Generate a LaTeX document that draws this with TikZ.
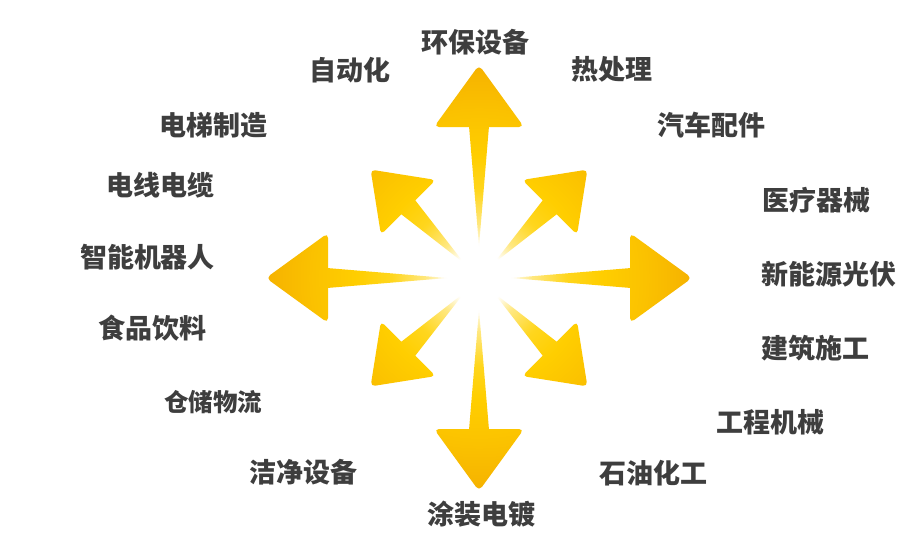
\documentclass[tikz,border=0pt]{standalone}
\usepackage{fontspec}
\newfontfamily\cjk{Noto Sans CJK SC}
\definecolor{txt}{RGB}{62,62,62}
\definecolor{cA}{RGB}{255,232,130}
\definecolor{cB}{RGB}{255,214,30}
\definecolor{cC}{RGB}{255,206,0}
\definecolor{cD}{RGB}{251,194,0}
\definecolor{cE}{RGB}{245,176,0}
\pgfdeclareradialshading{burst}{\pgfpointorigin}{color(0bp)=(white); color(3.5bp)=(white); color(6bp)=(cA); color(10bp)=(cB); color(14bp)=(cC); color(19bp)=(cD); color(25bp)=(cE); color(50bp)=(cE)}
\begin{document}
\begin{tikzpicture}[x=1pt,y=-1pt,
  lbl/.style={text=txt, inner sep=0pt, font=\cjk\bfseries\fontsize{27}{30}\selectfont},
  lbls/.style={text=txt, inner sep=0pt, font=\cjk\bfseries\fontsize{24.5}{28}\selectfont}]
\useasboundingbox[fill=white] (0,0) rectangle (898,557);
\coordinate (C) at (479,278);
% main arrows
\foreach \a in {0,90,180,270}{
  \begin{scope}
    \clip[shift={(C)}, rotate=\a, rounded corners=5pt] (151,45) -- (213,0) -- (151,-45) -- cycle
      [sharp corners] (32,0) -- (152,10) -- (152,-10) -- cycle;
    \shade[shading=burst] (C) circle (218);
  \end{scope}
}
% diagonal arrows
\foreach \a in {45,135,225,315}{
  \begin{scope}
    \clip[shift={(C)}, rotate=\a, rounded corners=4.5pt] (100,38.7) -- (153.3,0) -- (100,-38.7) -- cycle
      [sharp corners] (21,0) -- (101,10) -- (101,-10) -- cycle;
    \shade[shading=burst] (C) circle (188);
  \end{scope}
}
% labels
\node[lbl] (t1) at (475.5,42.5) {环保设备};
\node[lbl] (t2) at (349.5,69.7) {自动化};
\node[lbl] (t3) at (612,69.7) {热处理};
\node[lbl] (t4) at (213.7,125.3) {电梯制造};
\node[lbl] (t5) at (711,125.3) {汽车配件};
\node[lbl] (t6) at (160.8,185.5) {电线电缆};
\node[lbl] (t7) at (816,200.5) {医疗器械};
\node[lbl] (t8) at (147.5,256.7) {智能机器人};
\node[lbl] (t9) at (829,274) {新能源光伏};
\node[lbl] (t10) at (152,328) {食品饮料};
\node[lbl] (t11) at (815,348) {建筑施工};
\node[lbls] (t12) at (213,402.5) {仓储物流};
\node[lbl] (t13) at (770,422) {工程机械};
\node[lbl] (t14) at (303.3,472.5) {洁净设备};
\node[lbl] (t15) at (653,473.3) {石油化工};
\node[lbl] (t16) at (481.7,514.5) {涂装电镀};
\end{tikzpicture}
\end{document}
